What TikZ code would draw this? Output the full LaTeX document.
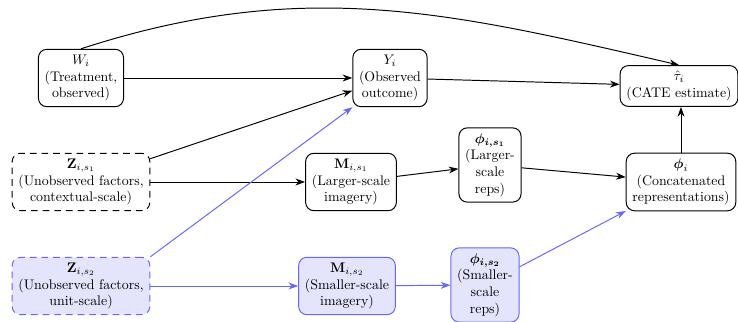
\documentclass[tikz,border=0pt]{standalone}
\usepackage{amsmath,amssymb}
\usetikzlibrary{arrows.meta}
\definecolor{bl}{RGB}{102,102,255}
\definecolor{blfill}{RGB}{228,228,252}
\begin{document}
\begin{tikzpicture}[x=0.72pt,y=0.72pt,
  box/.style={draw, rounded corners=6pt, align=center, inner xsep=4.5pt, inner ysep=4pt, line width=0.7pt, font=\normalsize},
  latent/.style={box, dash pattern=on 4.8pt off 3.6pt},
  bluebox/.style={box, draw=bl, fill=blfill},
  arr/.style={-{Stealth[length=7pt,width=5pt]}, line width=0.7pt},
  barr/.style={arr, draw=bl}]
\useasboundingbox (0,0) rectangle (738,-322);
\node[box] (W) at (81,-78) {$W_i$\\(Treatment,\\observed)};
\node[box] (Y) at (390,-78) {$Y_i$\\(Observed\\outcome)};
\node[box] (tau) at (679,-86) {$\hat{\tau}_i$\\(CATE estimate)};
\node[latent] (Z1) at (81,-182) {$\mathbf{Z}_{i,s_1}$\\(Unobserved factors,\\contextual-scale)};
\node[box] (M1) at (351,-182) {$\mathbf{M}_{i,s_1}$\\(Larger-scale\\imagery)};
\node[box] (P1) at (490,-165) {$\boldsymbol{\phi_{i,s_1}}$\\(Larger-\\scale\\reps)};
\node[box] (P) at (681,-182) {$\boldsymbol{\phi}_i$\\(Concatenated\\representations)};
\node[bluebox, dash pattern=on 4.8pt off 3.6pt] (Z2) at (81,-286) {$\mathbf{Z}_{i,s_2}$\\(Unobserved factors,\\unit-scale)};
\node[bluebox] (M2) at (347,-286) {$\mathbf{M}_{i,s_2}$\\(Smaller-scale\\imagery)};
\node[bluebox] (P2) at (485,-285) {$\boldsymbol{\phi_{i,s_2}}$\\(Smaller-\\scale\\reps)};

\draw[arr] (W) -- (Y);
\draw[arr] (W.north) to[out=18,in=167] (tau.north);
\draw[arr] (Y) -- (tau);
\draw[arr] (Z1) -- (Y);
\draw[arr] (Z1) -- (M1);
\draw[arr] (M1) -- (P1);
\draw[arr] (P1) -- (P);
\draw[arr] (P.north) -- (P.north |- tau.south);
\draw[barr] (Z2.north east) -- (Y.south west);
\draw[barr] (Z2) -- (M2);
\draw[barr] (M2) -- (P2);
\draw[barr] (P2) -- (P);
\end{tikzpicture}
\end{document}
